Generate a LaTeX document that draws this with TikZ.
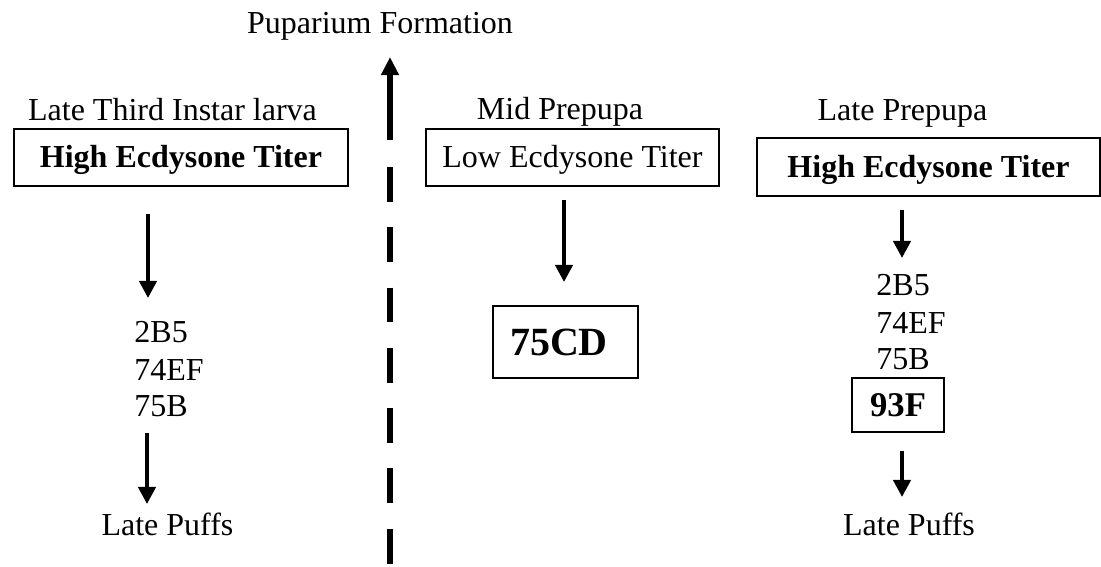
\documentclass[tikz,border=0pt]{standalone}
\usepackage{fontspec}
\setmainfont{Liberation Serif}
\usetikzlibrary{arrows.meta}

\begin{document}
\begin{tikzpicture}[x=0.375pt,y=-0.375pt,
	every node/.style={font=\fontsize{12}{14}\selectfont},
	titerbox/.style={draw,line width=0.75pt,minimum height=21.4pt,inner sep=0pt,text depth=0.5pt},
	puffbox/.style={draw,line width=0.75pt,inner sep=0pt},
	stage/.style={anchor=base},
	locus/.style={anchor=base west},
	flow/.style={line width=1.5pt,-{Triangle[width=6.4pt,length=6.4pt]}}]
\useasboundingbox (0,0) rectangle (1101,566);

% time line
\node[stage] (pupar) at (380,33) {Puparium Formation};
\coordinate (upfoot) at (390,140);
\coordinate (uptip) at (390,57);
\draw[line width=2.25pt,-{Triangle[width=6.4pt,length=6.8pt]}] (upfoot) -- (uptip);
\coordinate (dashtop) at (390,167);
\coordinate (dashend) at (390,566);
\draw[line width=2.25pt,dash pattern=on 13.1pt off 9.5pt] (dashtop) -- (dashend);

% late third instar larva
\node[stage] (larva) at (172.5,120) {Late Third Instar larva};
\node[titerbox,minimum width=125.25pt,font=\fontsize{12}{14}\selectfont\bfseries] (highA) at (181,157.5) {High Ecdysone Titer};
\coordinate (a1) at (148,214);
\coordinate (a2) at (148,298);
\draw[flow] (a1) -- (a2);
\node[locus] (lA1) at (125,342) {2B5};
\node[locus] (lA2) at (125,380) {74EF};
\node[locus] (lA3) at (125,416) {75B};
\coordinate (a3) at (147,433);
\coordinate (a4) at (147,504);
\draw[flow] (a3) -- (a4);
\node[stage] (puffA) at (167.5,535) {Late Puffs};

% mid prepupa
\node[stage] (mid) at (560,119) {Mid Prepupa};
\node[titerbox,minimum width=109.9pt] (low) at (572.5,157.5) {Low Ecdysone Titer};
\coordinate (b1) at (564,200);
\coordinate (b2) at (564,282);
\draw[flow] (b1) -- (b2);
\node[puffbox,text width=41.6pt,inner xsep=6.4pt,align=left,minimum height=27pt,font=\fontsize{15}{17}\selectfont\bfseries] (cd) at (565.5,342) {75CD};

% late prepupa
\node[stage] (late) at (902.5,120) {Late Prepupa};
\node[titerbox,minimum width=128.6pt,minimum height=21.75pt,font=\fontsize{12}{14}\selectfont\bfseries] (highB) at (928.5,167) {High Ecdysone Titer};
\coordinate (c1) at (902,210);
\coordinate (c2) at (902,258);
\draw[flow] (c1) -- (c2);
\node[locus] (lB1) at (867,295) {2B5};
\node[locus] (lB2) at (867,333) {74EF};
\node[locus] (lB3) at (867,369) {75B};
\node[puffbox,minimum width=34.5pt,minimum height=20.25pt,font=\fontsize{13}{15}\selectfont\bfseries] (nf) at (898,405) {93F};
\coordinate (c3) at (902,451);
\coordinate (c4) at (902,497);
\draw[flow] (c3) -- (c4);
\node[stage] (puffB) at (909,535) {Late Puffs};
\end{tikzpicture}
\end{document}
